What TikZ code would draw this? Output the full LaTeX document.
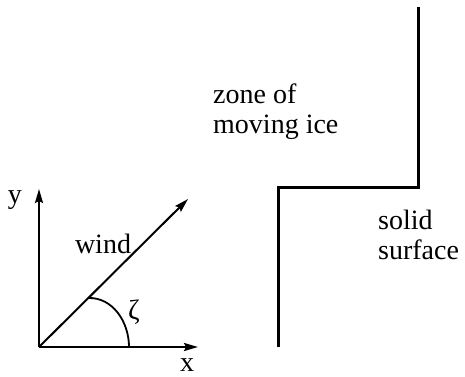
\documentclass[tikz,border=0pt]{standalone}
\usepackage{fontspec}
\setmainfont{Liberation Serif}
\usepackage{tikz}
\usetikzlibrary{positioning,calc,arrows.meta}

\begin{document}
\begin{tikzpicture}[
    x=1pt, y=1pt,
    % Estilos
    axis/.style={line width=2pt, -{Stealth[length=14pt, width=8pt, inset=2pt]}},
    wall/.style={line width=3pt, line join=miter},
    arcline/.style={line width=1.8pt},
    lbl/.style={font=\rmfamily\fontsize{28}{30}\selectfont, inner sep=0pt},
    zone_label/.style={lbl, align=left, anchor=west}
]
\useasboundingbox (0,0) rectangle (465,376);

% --- PUNTOS (ejes y viento) ---
\coordinate (O)        at (39,29);
\coordinate (ytip)     at (39,187);
\coordinate (xtip)     at (198,29);
\coordinate (windtip)  at (188,177);
\coordinate (arcstart) at (88,78);
\coordinate (arcend)   at (129,29);

% --- PUNTOS (superficie) ---
\coordinate (wtop)  at (418,369);
\coordinate (wmid1) at (418,189);
\coordinate (wmid2) at (278,189);
\coordinate (wbot)  at (278,29);

% --- ENRUTADO ---
\draw[axis] (O) -- (ytip);
\draw[axis] (O) -- (xtip);
\draw[axis] (O) -- (windtip);
\draw[arcline] (arcstart) to[out=2, in=90] (arcend);
\draw[wall] (wtop) -- (wmid1) -- (wmid2) -- (wbot);

% --- ETIQUETADO ---
\node[lbl, anchor=base] (ylbl) at (15,173) {y};
\node[lbl, anchor=base] (xlbl) at (187,5) {x};
\node[lbl, anchor=base] (wind) at (103,123) {wind};
\node[lbl] (zeta) at (134,64) {ζ};
\node[zone_label] (zone) at (213,264) {zone of\\moving ice};
\node[zone_label] (solid) at (378,141) {solid\\surface};

\end{tikzpicture}
\end{document}
